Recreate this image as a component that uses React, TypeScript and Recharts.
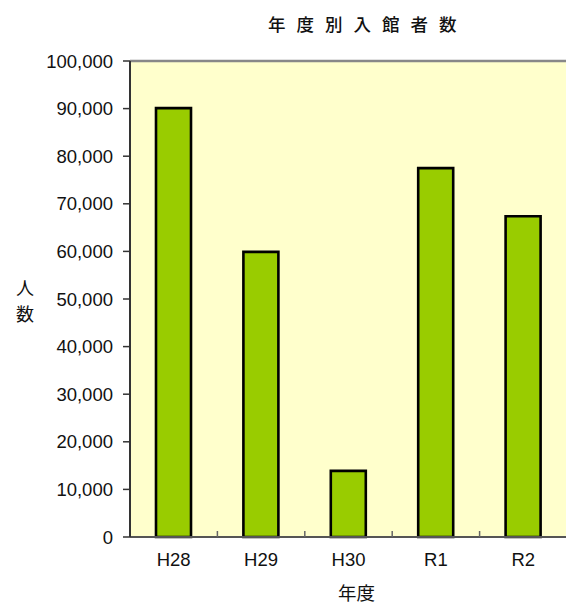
import React from 'react';
import {
    BarChart,
    Bar,
    XAxis,
    YAxis,
    CartesianGrid,
    ReferenceLine,
    ReferenceArea,
    Label
} from 'recharts';

const years = ['H28', 'H29', 'H30', 'R1', 'R2'];
const visitors = [90100, 59900, 13900, 77500, 67400];
const yTicks = [0, 10000, 20000, 30000, 40000, 50000, 60000, 70000, 80000, 90000, 100000];

const chartData = years.map((year, i) => ({ year, visitors: visitors[i] }));

const CHART_W = 570;
const CHART_H = 604;
const MARGIN = { top: 61, right: 3, left: 50, bottom: 0 };
const Y_AXIS_W = 80;
const BAND = (CHART_W - MARGIN.left - MARGIN.right - Y_AXIS_W) / years.length;

const numFont = '"Liberation Sans", Arial, sans-serif';
const jpFont = '"Noto Sans CJK JP", sans-serif';

const formatNumber = (v: number) => v.toLocaleString('en-US');

// category label plus the small inward tick between categories
const YearTick = (props: any) => {
    const { x, y, payload, index } = props;
    const half = payload?.offset ?? BAND / 2;
    return (
        <g>
            <text
                x={x}
                y={y + 29}
                textAnchor="middle"
                fontFamily={numFont}
                fontSize={18.5}
                fill="#111"
            >
                {payload.value}
            </text>
            {index < years.length - 1 && (
                <line x1={x + half} x2={x + half} y1={y} y2={y - 6} stroke="#666" strokeWidth={1.5} />
            )}
        </g>
    );
};

export default function App() {
    return (
        <div style={{ position: 'absolute', left: 0, top: 0, width: 566, height: 604, overflow: 'hidden', background: '#fff' }}>
            <div
                style={{
                    position: 'absolute',
                    left: 268,
                    top: 15,
                    fontFamily: jpFont,
                    fontSize: 17.5,
                    fontWeight: 500,
                    lineHeight: '18px',
                    letterSpacing: '11px',
                    whiteSpace: 'nowrap',
                    color: '#111'
                }}
            >
                年度別入館者数
            </div>
            <BarChart width={CHART_W} height={CHART_H} data={chartData} margin={MARGIN}>
                <ReferenceArea y1={0} y2={100000} fill="#FFFFCC" fillOpacity={1} stroke="none" ifOverflow="visible" />
                <CartesianGrid vertical={false} stroke="#222" strokeWidth={1.2} />
                <ReferenceLine y={100000} stroke="#888" strokeWidth={2.5} />
                <XAxis
                    dataKey="year"
                    height={67}
                    tickLine={false}
                    tickSize={0}
                    tickMargin={0}
                    axisLine={{ stroke: '#555', strokeWidth: 2 }}
                    tick={<YearTick />}
                    interval={0}
                >
                    <Label
                        content={(p: any) => {
                            const vb = p.viewBox;
                            return (
                                <text
                                    x={vb.x + vb.width / 2 + 8}
                                    y={vb.y + 63}
                                    textAnchor="middle"
                                    fontFamily={jpFont}
                                    fontSize={18.5}
                                    fill="#111"
                                >
                                    年度
                                </text>
                            );
                        }}
                    />
                </XAxis>
                <YAxis
                    width={Y_AXIS_W}
                    domain={[0, 100000]}
                    ticks={yTicks}
                    interval={0}
                    tickFormatter={formatNumber}
                    tickSize={7}
                    tickMargin={10}
                    tickLine={{ stroke: '#333', strokeWidth: 1.5 }}
                    axisLine={{ stroke: '#333', strokeWidth: 2 }}
                    tick={{ fontFamily: numFont, fontSize: 18.5, fill: '#111' }}
                >
                    <Label
                        content={() => (
                            <g fontFamily={jpFont} fontSize={18} fill="#111">
                                <text x={25} y={295} textAnchor="middle">人</text>
                                <text x={25} y={321} textAnchor="middle">数</text>
                            </g>
                        )}
                    />
                </YAxis>
                <Bar
                    dataKey="visitors"
                    fill="#99CC00"
                    stroke="#000"
                    strokeWidth={2.6}
                    barSize={35}
                    isAnimationActive={false}
                />
            </BarChart>
        </div>
    );
}
